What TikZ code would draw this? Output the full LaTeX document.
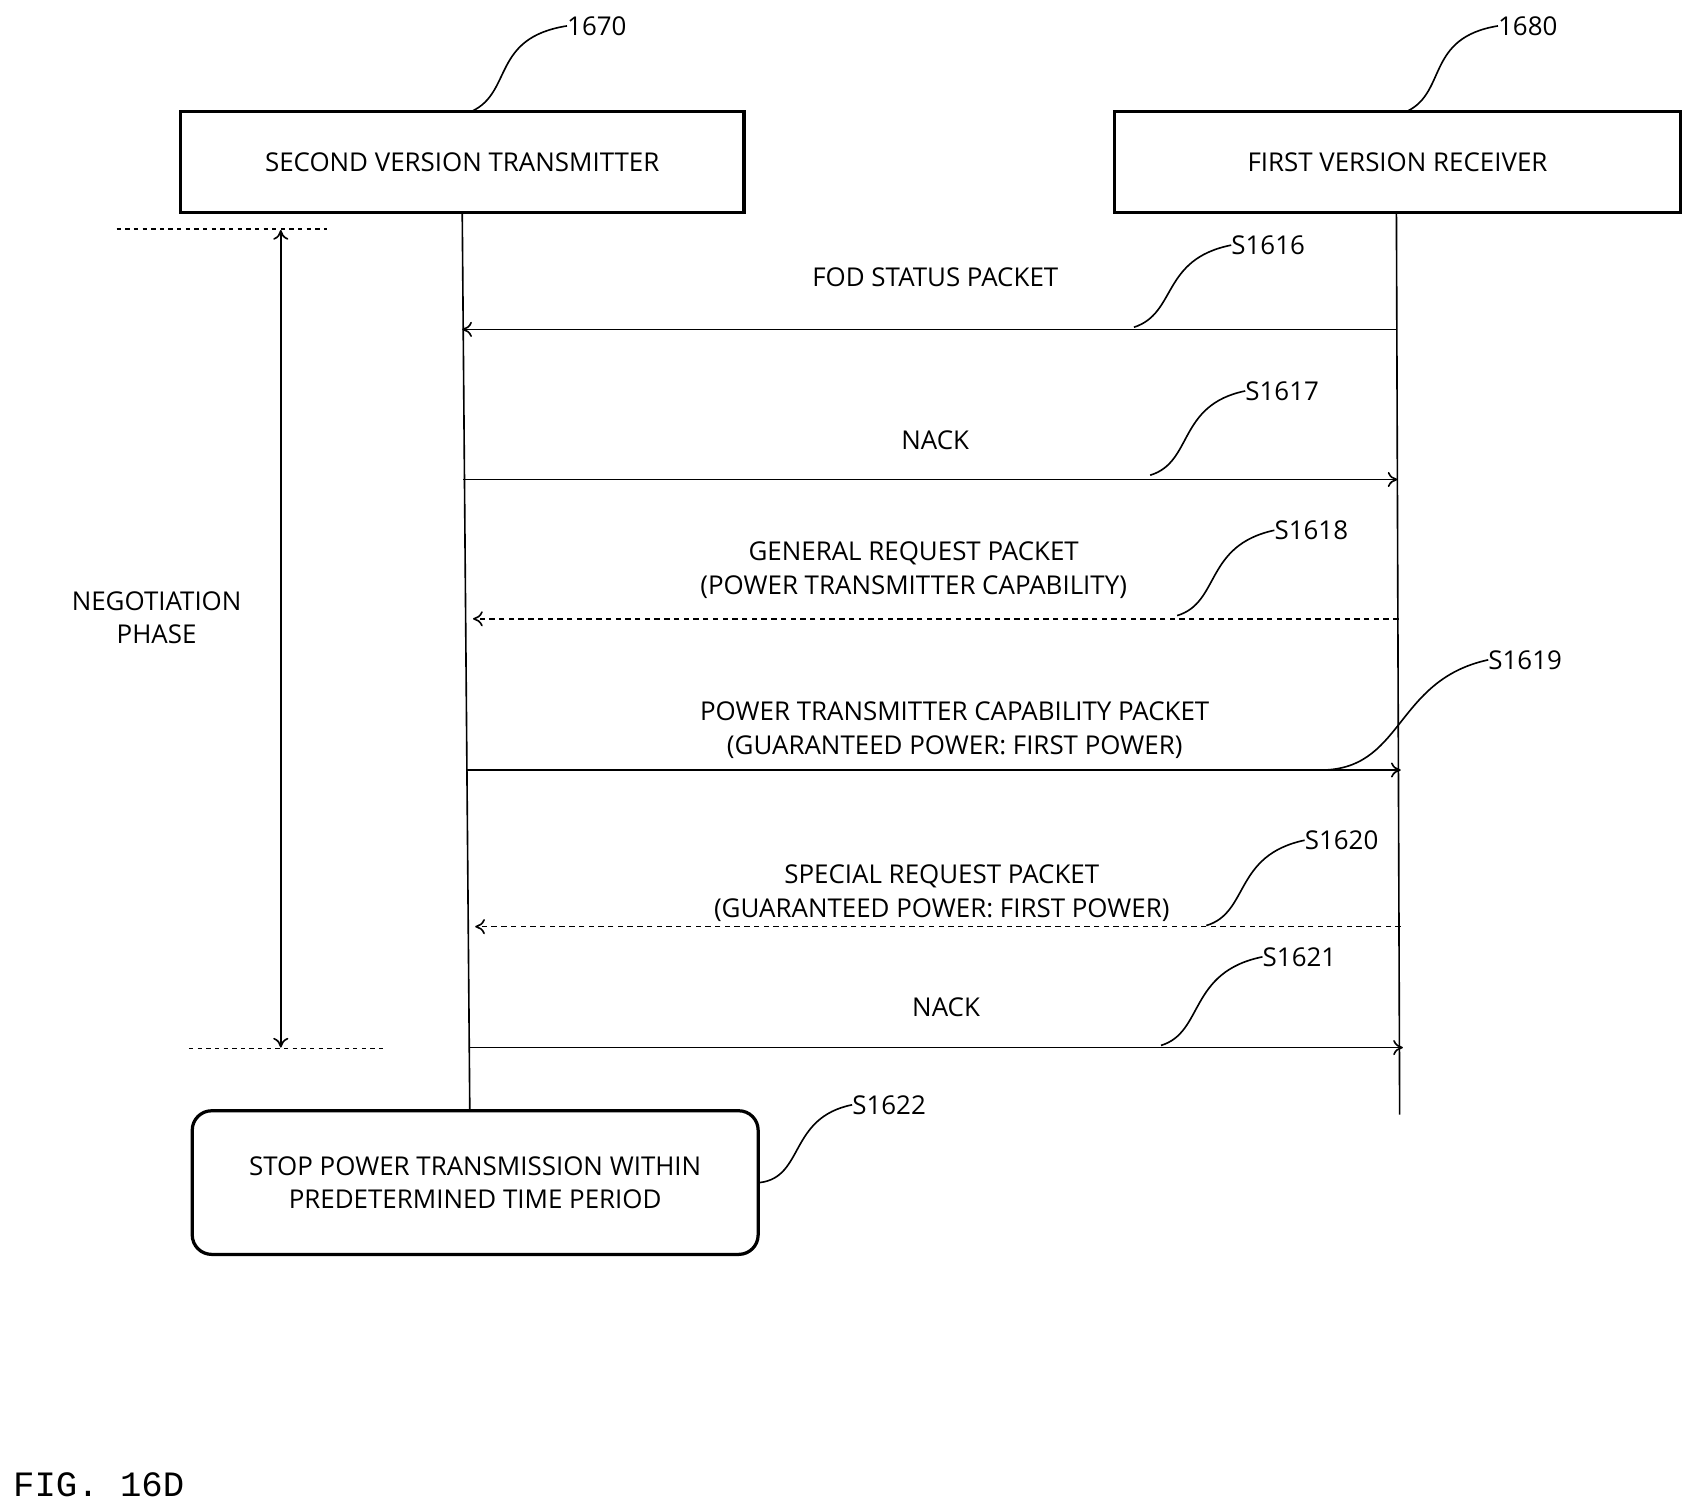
\documentclass[tikz,border=0pt]{standalone}
\usepackage{fontspec}
\setmainfont{Open Sans}
\newfontfamily\figfont{Liberation Mono}
\usetikzlibrary{arrows.meta}
\begin{document}
\begin{tikzpicture}[x=1pt,y=-1pt,
  txt/.style={font=\fontsize{24}{31}\selectfont,align=center,inner sep=0},
  box/.style={draw,line width=3pt},
  life/.style={line width=1.5pt},
  msg/.style={line width=1.5pt,-{To[length=9pt,width=14pt]}},
  dmsg/.style={msg,dash pattern=on 5pt off 4pt},
  lead/.style={line width=1.5pt}]
\useasboundingbox (0,0) rectangle (1563,1396);
\node[box,minimum width=522pt,minimum height=94pt,txt] (tx) at (428,150) {SECOND VERSION TRANSMITTER};
\node[box,minimum width=524pt,minimum height=94pt,txt] (rx) at (1294,150) {FIRST VERSION RECEIVER};
\coordinate (txe) at (435,1028);
\coordinate (rxe) at (1296,1032);
\draw[life] (428,197) -- (txe);
\draw[life] (1293,197) -- (rxe);
\node[txt,anchor=west] (l1670) at (525,24) {1670};
\draw[lead] (437,103) .. controls (475,85) and (455,35) .. (l1670.west);
\node[txt,anchor=west] (l1680) at (1387,24) {1680};
\draw[lead] (1303,103) .. controls (1340,85) and (1320,35) .. (l1680.west);
% messages
\coordinate (a1s) at (1293,305); \coordinate (a1e) at (428,305);
\draw[msg] (a1s) -- (a1e);
\node[txt] (m1) at (866,257) {FOD STATUS PACKET};
\node[txt,anchor=west] (s1616) at (1140,227) {S1616};
\draw[lead] (1050,303) .. controls (1090,290) and (1075,240) .. (s1616.west);
\coordinate (a2s) at (429,444); \coordinate (a2e) at (1294,444);
\draw[msg] (a2s) -- (a2e);
\node[txt] (m2) at (866,408) {NACK};
\node[txt,anchor=west] (s1617) at (1153,362) {S1617};
\draw[lead] (1065,440) .. controls (1105,428) and (1090,375) .. (s1617.west);
\coordinate (a3s) at (1295,573); \coordinate (a3e) at (438,573);
\draw[dmsg] (a3s) -- (a3e);
\node[txt] (m3) at (846,528) {GENERAL REQUEST PACKET\\(POWER TRANSMITTER CAPABILITY)};
\node[txt,anchor=west] (s1618) at (1180,491) {S1618};
\draw[lead] (1090,570) .. controls (1130,558) and (1115,505) .. (s1618.west);
\coordinate (a4s) at (432,713); \coordinate (a4e) at (1297,713);
\draw[msg] (a4s) -- (a4e);
\node[txt] (m4) at (884,676) {POWER TRANSMITTER CAPABILITY PACKET\\(GUARANTEED POWER: FIRST POWER)};
\node[txt,anchor=west] (s1619) at (1378,611) {S1619};
\draw[lead] (1220,713) .. controls (1300,715) and (1290,630) .. (s1619.west);
\coordinate (a5s) at (1297,858); \coordinate (a5e) at (440,858);
\draw[dmsg] (a5s) -- (a5e);
\node[txt] (m5) at (872,827) {SPECIAL REQUEST PACKET\\(GUARANTEED POWER: FIRST POWER)};
\node[txt,anchor=west] (s1620) at (1208,778) {S1620};
\draw[lead] (1117,857) .. controls (1157,845) and (1142,792) .. (s1620.west);
\coordinate (a6s) at (435,970); \coordinate (a6e) at (1299,970);
\draw[msg] (a6s) -- (a6e);
\node[txt] (m6) at (876,933) {NACK};
\node[txt,anchor=west] (s1621) at (1169,886) {S1621};
\draw[lead] (1075,968) .. controls (1115,956) and (1100,900) .. (s1621.west);
% negotiation phase
\coordinate (n1a) at (108,212); \coordinate (n1b) at (303,212);
\coordinate (n2a) at (175,971); \coordinate (n2b) at (355,971);
\draw[line width=1.3pt,dash pattern=on 4pt off 4pt] (n1a) -- (n1b);
\draw[line width=1.3pt,dash pattern=on 4pt off 4pt] (n2a) -- (n2b);
\coordinate (p1) at (260,213); \coordinate (p2) at (260,970);
\draw[line width=1.5pt,{To[length=9pt,width=14pt]}-{To[length=9pt,width=14pt]}] (p1) -- (p2);
\node[txt] (neg) at (145,572) {NEGOTIATION\\PHASE};
% stop box
\node[draw,line width=3pt,rounded corners=18pt,minimum width=524pt,minimum height=133pt,txt] (stop) at (440,1095) {STOP POWER TRANSMISSION WITHIN\\PREDETERMINED TIME PERIOD};
\node[txt,anchor=west] (s1622) at (789,1023) {S1622};
\draw[lead] (stop.east) .. controls (745,1090) and (730,1035) .. (s1622.west);
\node[anchor=west,inner sep=0,font=\figfont\fontsize{33}{36}\selectfont] (fig) at (12,1375) {FIG. 16D};
\end{tikzpicture}
\end{document}
